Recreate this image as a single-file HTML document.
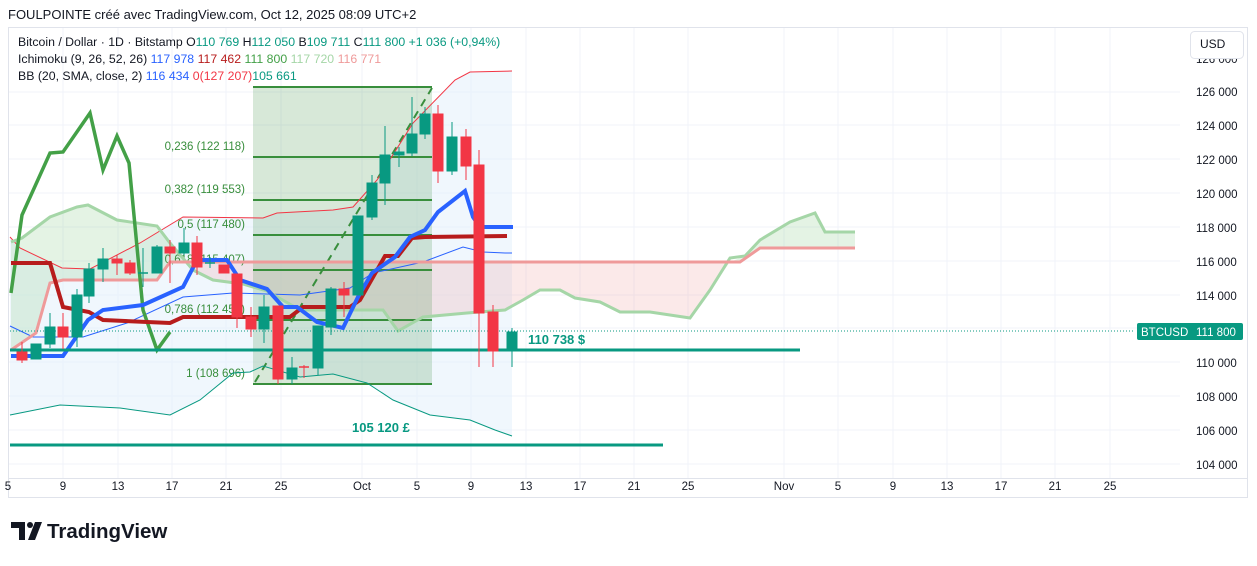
<!DOCTYPE html><html><head><meta charset="utf-8"><style>
body{margin:0;background:#fff;width:1257px;height:561px;overflow:hidden;font-family:"Liberation Sans",sans-serif}
</style></head><body>
<svg width="1257" height="561" xmlns="http://www.w3.org/2000/svg" font-family="Liberation Sans, sans-serif">
<text x="8" y="19" font-size="13" fill="#131722">FOULPOINTE créé avec TradingView.com, Oct 12, 2025 08:09 UTC+2</text>
<rect x="8.5" y="27.5" width="1239" height="470" fill="#fff" stroke="#e0e3eb"/>
<g stroke="#f0f3fa" stroke-width="1">
<line x1="9" y1="92" x2="1180" y2="92"/><line x1="9" y1="125" x2="1180" y2="125"/><line x1="9" y1="159" x2="1180" y2="159"/><line x1="9" y1="193" x2="1180" y2="193"/><line x1="9" y1="227" x2="1180" y2="227"/><line x1="9" y1="261" x2="1180" y2="261"/><line x1="9" y1="295" x2="1180" y2="295"/><line x1="9" y1="328" x2="1180" y2="328"/><line x1="9" y1="362" x2="1180" y2="362"/><line x1="9" y1="396" x2="1180" y2="396"/><line x1="9" y1="430" x2="1180" y2="430"/><line x1="9" y1="464" x2="1180" y2="464"/>
<line x1="63" y1="28" x2="63" y2="478"/><line x1="118" y1="28" x2="118" y2="478"/><line x1="172" y1="28" x2="172" y2="478"/><line x1="226" y1="28" x2="226" y2="478"/><line x1="281" y1="28" x2="281" y2="478"/><line x1="362" y1="28" x2="362" y2="478"/><line x1="417" y1="28" x2="417" y2="478"/><line x1="471" y1="28" x2="471" y2="478"/><line x1="526" y1="28" x2="526" y2="478"/><line x1="580" y1="28" x2="580" y2="478"/><line x1="634" y1="28" x2="634" y2="478"/><line x1="688" y1="28" x2="688" y2="478"/><line x1="784" y1="28" x2="784" y2="478"/><line x1="838" y1="28" x2="838" y2="478"/><line x1="893" y1="28" x2="893" y2="478"/><line x1="947" y1="28" x2="947" y2="478"/><line x1="1001" y1="28" x2="1001" y2="478"/><line x1="1055" y1="28" x2="1055" y2="478"/><line x1="1110" y1="28" x2="1110" y2="478"/>
</g>
<line x1="9" y1="478.5" x2="1248" y2="478.5" stroke="#e0e3eb"/>
<polygon fill="#e3f0fb" fill-opacity="0.55" points="10,237 20,248 62,268 90,269 140,243 183,217 263,218 277,213 333,210 353,207 377,180 413,123 455,80 470,72 512,71 512,436 495,430 470,420 430,415 393,400 367,383 333,374 300,377 263,366 250,372 233,373 200,400 170,415 120,408 60,405 10,415"/>
<polygon fill="#a5d6a7" fill-opacity="0.3" points="11,242 22,238 50,217 77,207 88,205 117,220 157,226 170,243 193,270 200,262 170,262 157,280 63,280 50,283 36,333 11,350"/>
<polygon fill="#ef9a9a" fill-opacity="0.22" points="193,270 213,280 243,284 267,291 300,310 383,310 398,331 423,317 467,313 505,310 523,300 540,290 560,290 575,298 600,302 620,312 650,312 690,318 710,290 730,262 200,262"/>
<polygon fill="#a5d6a7" fill-opacity="0.3" points="730,262 745,256 760,240 790,222 815,213 825,232 855,232 855,248 760,248 740,262"/>
<rect x="253" y="87" width="179" height="297" fill="#388e3c" fill-opacity="0.2"/>
<g stroke="#388e3c" stroke-width="2">
<line x1="253" y1="87" x2="432" y2="87"/><line x1="253" y1="157" x2="432" y2="157"/><line x1="253" y1="200" x2="432" y2="200"/><line x1="253" y1="235" x2="432" y2="235"/><line x1="253" y1="270" x2="432" y2="270"/><line x1="253" y1="320" x2="432" y2="320"/><line x1="253" y1="384" x2="432" y2="384"/>
</g>
<line x1="255" y1="382" x2="432" y2="88" stroke="#388e3c" stroke-width="2" stroke-dasharray="8,6"/>
<g font-size="11.5" fill="#388e3c" text-anchor="end">
<text x="245" y="150">0,236 (122 118)</text><text x="245" y="193">0,382 (119 553)</text><text x="245" y="228">0,5 (117 480)</text><text x="245" y="263">0,618 (115 407)</text><text x="245" y="313">0,786 (112 453)</text><text x="245" y="377">1 (108 696)</text>
</g>
<polyline fill="none" stroke="#f23645" stroke-width="1" points="10,237 20,248 62,268 90,269 140,243 183,217 263,218 277,213 333,210 353,207 377,180 413,123 455,80 470,72 512,71"/>
<polyline fill="none" stroke="#2962ff" stroke-width="1" points="10,326 33,337 83,337 127,323 183,297 233,293 300,295 350,288 373,273 423,262 463,247 483,252 505,253 512,253"/>
<polyline fill="none" stroke="#089981" stroke-width="1" points="10,415 60,405 120,408 170,415 200,400 233,373 250,372 263,366 300,377 333,374 367,383 393,400 430,415 470,420 495,430 512,436"/>
<polyline fill="none" stroke="#a5d6a7" stroke-width="3" points="11,242 22,238 50,217 77,207 88,205 117,220 157,226 170,243 193,270 213,280 243,284 267,291 300,310 383,310 398,331 423,317 467,313 505,310 523,300 540,290 560,290 575,298 600,302 620,312 650,312 690,318 710,290 730,258 745,256 760,240 790,222 815,213 825,232 855,232"/>
<polyline fill="none" stroke="#ef9a9a" stroke-width="3" points="11,350 36,333 50,283 63,280 157,280 170,262 740,262 760,248 855,248"/>
<polyline fill="none" stroke="#43a047" stroke-width="3.5" points="11,293 22,215 50,153 63,152 90,113 103,170 117,136 129,163 143,310 157,350 170,332"/>
<polyline fill="none" stroke="#b71c1c" stroke-width="4" points="11,263 50,263 63,307 89,312 103,320 170,323 183,317 290,317 303,307 350,307 360,300 385,256 398,256 412,238 425,237 507,236"/>
<polyline fill="none" stroke="#2962ff" stroke-width="4" points="11,356 63,356 88,320 103,310 143,305 183,287 197,260 227,260 240,280 267,289 283,307 297,307 317,322 343,328 358,297 372,273 395,257 410,237 425,230 438,212 465,191 473,217 480,227 513,227"/>
<line x1="10" y1="350" x2="800" y2="350" stroke="#089981" stroke-width="3"/>
<line x1="10" y1="445" x2="663" y2="445" stroke="#089981" stroke-width="3"/>
<line x1="10" y1="331" x2="1135" y2="331" stroke="#089981" stroke-width="1" stroke-dasharray="1,2"/>
<text x="528" y="344" font-size="13" font-weight="bold" fill="#089981">110 738 $</text>
<text x="352" y="432" font-size="13" font-weight="bold" fill="#089981">105 120 £</text>
<g stroke-width="1">
<g stroke="#f23645" fill="#f23645">
<line x1="22" y1="342" x2="22" y2="363"/><rect x="17" y="352" width="10" height="8"/>
<line x1="63" y1="313" x2="63" y2="349"/><rect x="58" y="327" width="10" height="10"/>
<line x1="117" y1="255" x2="117" y2="275"/><rect x="112" y="259" width="10" height="4"/>
<line x1="130" y1="260" x2="130" y2="275"/><rect x="125" y="263" width="10" height="10"/>
<line x1="170" y1="240" x2="170" y2="283"/><rect x="165" y="247" width="10" height="6"/>
<line x1="197" y1="236" x2="197" y2="275"/><rect x="192" y="243" width="10" height="24"/>
<rect x="219" y="265" width="10" height="8"/>
<line x1="237" y1="274" x2="237" y2="328"/><rect x="232" y="274" width="10" height="43"/>
<line x1="251" y1="307" x2="251" y2="337"/><rect x="246" y="317" width="10" height="12"/>
<line x1="278" y1="306" x2="278" y2="384"/><rect x="273" y="306" width="10" height="73"/>
<line x1="304" y1="365" x2="304" y2="378"/><line x1="299" y1="367" x2="309" y2="367" stroke-width="1.5"/>
<line x1="344" y1="282" x2="344" y2="317"/><rect x="339" y="289" width="10" height="6"/>
<line x1="438" y1="105" x2="438" y2="183"/><rect x="433" y="114" width="10" height="57"/>
<line x1="466" y1="129" x2="466" y2="180"/><rect x="461" y="137" width="10" height="29"/>
<line x1="479" y1="150" x2="479" y2="367"/><rect x="474" y="165" width="10" height="148"/>
<line x1="493" y1="305" x2="493" y2="367"/><rect x="488" y="312" width="10" height="39"/>
</g>
<g stroke="#089981" fill="#089981">
<rect x="31" y="344" width="10" height="15"/>
<line x1="50" y1="313" x2="50" y2="348"/><rect x="45" y="327" width="10" height="17"/>
<line x1="77" y1="289" x2="77" y2="347"/><rect x="72" y="295" width="10" height="42"/>
<line x1="89" y1="263" x2="89" y2="303"/><rect x="84" y="269" width="10" height="27"/>
<line x1="103" y1="248" x2="103" y2="282"/><rect x="98" y="259" width="10" height="10"/>
<line x1="143" y1="248" x2="143" y2="287"/><line x1="138" y1="273" x2="148" y2="273" stroke-width="1.5"/>
<line x1="157" y1="245" x2="157" y2="273"/><rect x="152" y="247" width="10" height="26"/>
<line x1="184" y1="228" x2="184" y2="255"/><rect x="179" y="243" width="10" height="10"/>
<line x1="210" y1="257" x2="210" y2="268"/><line x1="205" y1="263" x2="215" y2="263" stroke-width="1.5"/>
<line x1="264" y1="295" x2="264" y2="343"/><rect x="259" y="307" width="10" height="22"/>
<line x1="292" y1="357" x2="292" y2="384"/><rect x="287" y="368" width="10" height="11"/>
<line x1="318" y1="326" x2="318" y2="375"/><rect x="313" y="326" width="10" height="42"/>
<line x1="331" y1="287" x2="331" y2="335"/><rect x="326" y="289" width="10" height="38"/>
<rect x="353" y="216" width="10" height="79"/>
<line x1="372" y1="175" x2="372" y2="220"/><rect x="367" y="183" width="10" height="34"/>
<line x1="385" y1="126" x2="385" y2="205"/><rect x="380" y="155" width="10" height="28"/>
<line x1="399" y1="147" x2="399" y2="167"/><rect x="394" y="152" width="10" height="3"/>
<line x1="412" y1="97" x2="412" y2="156"/><rect x="407" y="134" width="10" height="19"/>
<line x1="425" y1="107" x2="425" y2="139"/><rect x="420" y="114" width="10" height="20"/>
<line x1="452" y1="122" x2="452" y2="175"/><rect x="447" y="137" width="10" height="34"/>
<line x1="512" y1="328" x2="512" y2="367"/><rect x="507" y="332" width="10" height="19"/>
</g></g>
<g font-size="12.3">
<text x="18" y="46" fill="#131722">Bitcoin / Dollar · 1D · Bitstamp  O<tspan fill="#089981">110 769</tspan>  H<tspan fill="#089981">112 050</tspan>  B<tspan fill="#089981">109 711</tspan>  C<tspan fill="#089981">111 800</tspan>  <tspan fill="#089981">+1 036 (+0,94%)</tspan></text>
<text x="18" y="63" fill="#131722">Ichimoku (9, 26, 52, 26)  <tspan fill="#2962ff">117 978</tspan>  <tspan fill="#b71c1c">117 462</tspan>  <tspan fill="#43a047">111 800</tspan>  <tspan fill="#a5d6a7">117 720</tspan>  <tspan fill="#ef9a9a">116 771</tspan></text>
<text x="18" y="80" fill="#131722">BB (20, SMA, close, 2)  <tspan fill="#2962ff">116 434</tspan>  <tspan fill="#f23645">0(127 207)</tspan><tspan fill="#089981">105 661</tspan></text>
</g>
<g font-size="11.5" fill="#131722">
<text x="1196" y="63">126 000</text><text x="1196" y="96">126 000</text><text x="1196" y="130">124 000</text><text x="1196" y="164">122 000</text><text x="1196" y="198">120 000</text><text x="1196" y="232">118 000</text><text x="1196" y="266">116 000</text><text x="1196" y="300">114 000</text><text x="1196" y="367">110 000</text><text x="1196" y="401">108 000</text><text x="1196" y="435">106 000</text><text x="1196" y="469">104 000</text>
</g>
<rect x="1190.5" y="31.5" width="53" height="27" rx="4" fill="#fff" stroke="#e0e3eb"/>
<text x="1200" y="48" font-size="12" fill="#131722">USD</text>
<rect x="1137" y="323" width="106" height="17" rx="2" fill="#089981"/>
<text x="1141" y="336" font-size="11.5" fill="#fff">BTCUSD</text><text x="1196" y="336" font-size="11.5" fill="#fff">111 800</text>
<g font-size="11.5" fill="#131722" text-anchor="middle">
<text x="8" y="490">5</text><text x="63" y="490">9</text><text x="118" y="490">13</text><text x="172" y="490">17</text><text x="226" y="490">21</text><text x="281" y="490">25</text><text x="362" y="490">Oct</text><text x="417" y="490">5</text><text x="471" y="490">9</text><text x="526" y="490">13</text><text x="580" y="490">17</text><text x="634" y="490">21</text><text x="688" y="490">25</text><text x="784" y="490">Nov</text><text x="838" y="490">5</text><text x="893" y="490">9</text><text x="947" y="490">13</text><text x="1001" y="490">17</text><text x="1055" y="490">21</text><text x="1110" y="490">25</text>
</g>
<path d="M11 522h14v18h-6v-12h-8z M28 540l7-18h7l-7 18z" fill="#131722"/>
<circle cx="30" cy="525" r="3" fill="#131722"/>
<text x="47" y="538" font-size="20.5" font-weight="bold" fill="#131722">TradingView</text>
</svg>
</body></html>
